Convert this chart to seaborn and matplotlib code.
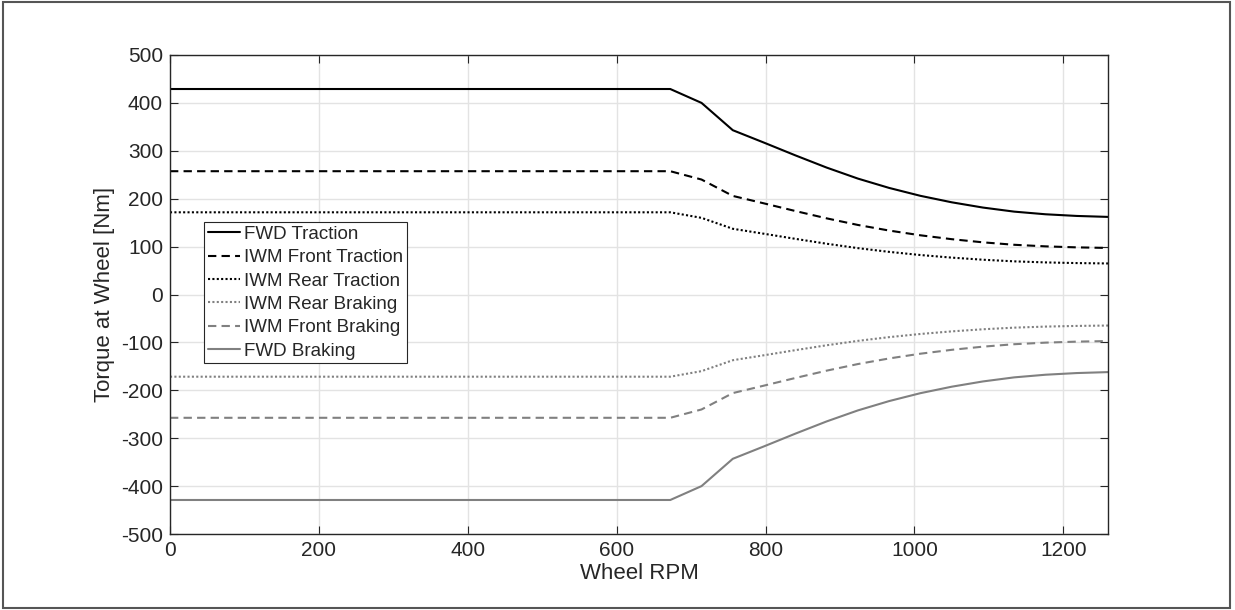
import matplotlib
matplotlib.use("Agg")
import matplotlib.pyplot as plt
import seaborn as sns
import pandas as pd
from matplotlib.patches import Rectangle

rpm = [0, 672, 714, 756, 798, 840, 882, 924, 966, 1008, 1050, 1092, 1134, 1176, 1218, 1260]
fwd_traction = [429, 429, 400, 343, 317, 290.5, 265, 242, 222.5, 206, 192.5, 181.5, 173, 167.5, 164, 162]
iwm_front_traction = [257.4, 257.4, 240, 205.8, 190.2, 174.3, 159, 145.2, 133.5, 123.6, 115.5, 108.9, 103.8, 100.5, 98.4, 97.2]
iwm_rear_traction = [171.6, 171.6, 160, 137.2, 126.8, 116.2, 106, 96.8, 89, 82.4, 77, 72.6, 69.2, 67, 65.6, 64.8]
iwm_rear_braking = [-171.6, -171.6, -160, -137.2, -126.8, -116.2, -106, -96.8, -89, -82.4, -77, -72.6, -69.2, -67, -65.6, -64.8]
iwm_front_braking = [-257.4, -257.4, -240, -205.8, -190.2, -174.3, -159, -145.2, -133.5, -123.6, -115.5, -108.9, -103.8, -100.5, -98.4, -97.2]
fwd_braking = [-429, -429, -400, -343, -317, -290.5, -265, -242, -222.5, -206, -192.5, -181.5, -173, -167.5, -164, -162]

series_names = ["FWD Traction", "IWM Front Traction", "IWM Rear Traction",
                "IWM Rear Braking", "IWM Front Braking", "FWD Braking"]
series_vals = [fwd_traction, iwm_front_traction, iwm_rear_traction,
               iwm_rear_braking, iwm_front_braking, fwd_braking]
x_ticks = [0, 200, 400, 600, 800, 1000, 1200]
y_ticks = [-500, -400, -300, -200, -100, 0, 100, 200, 300, 400, 500]

sns.set_theme(style="white")
plt.rcParams['font.family'] = ['Liberation Sans', 'DejaVu Sans']
plt.rcParams['axes.unicode_minus'] = False

fig = plt.figure(figsize=(12.35, 6.10), dpi=100)
ax = fig.add_axes([170/1235, 1-534/610, (1108-170)/1235, (534-55)/610])

black = "#000000"
grey = "#808080"
styles = [
    (black, "-"),
    (black, (0, (4, 2.5))),
    (black, (0, (1, 1.1))),
    (grey, (0, (1, 1.1))),
    (grey, (0, (4, 2.5))),
    (grey, "-"),
]

for name, vals, (c, ls) in zip(series_names, series_vals, styles):
    df = pd.DataFrame({"rpm": rpm, "torque": vals})
    sns.lineplot(data=df, x="rpm", y="torque", ax=ax, color=c, linewidth=1.5,
                 linestyle=ls, label=name, estimator=None, sort=False)

ax.set_xlim(0, 1260)
ax.set_ylim(-500, 500)
ax.set_xticks(x_ticks)
ax.set_yticks(y_ticks)
ax.grid(True, color="#e3e3e3", linewidth=1)
ax.set_axisbelow(True)
edge = "#262626"
for s in ax.spines.values():
    s.set_color(edge)
    s.set_linewidth(1.0)
    s.set_visible(True)
ax.tick_params(direction="in", length=6, width=0.8, color=edge, labelsize=15,
               labelcolor=edge, top=True, right=True, bottom=True, left=True, pad=5)
ax.set_xlabel("Wheel RPM", fontsize=16, color=edge, labelpad=2)
ax.set_ylabel("Torque at Wheel [Nm]", fontsize=16, color=edge, labelpad=4)

leg = ax.legend(loc="upper left", bbox_to_anchor=(0.036, 0.651), fontsize=13.5,
                frameon=True, fancybox=False, framealpha=1, edgecolor=edge,
                handlelength=1.75, handletextpad=0.2, borderpad=0.2,
                labelspacing=0.33, borderaxespad=0)
leg.get_frame().set_linewidth(0.8)

fig.add_artist(Rectangle((3/1235, 2/610), 1227/1235, 606/610, transform=fig.transFigure,
                         fill=False, edgecolor="#555555", linewidth=1.5))

fig.savefig("out.png", dpi=100)
